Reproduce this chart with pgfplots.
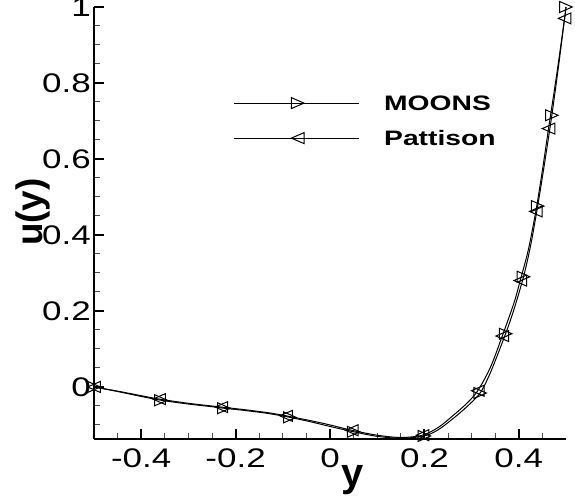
\documentclass[border=0pt]{standalone}
\usepackage{fontspec}
\setmainfont{Liberation Sans}[FakeStretch=1.3]
\newfontfamily\labelfont{Liberation Sans}
\newfontfamily\legfont{Liberation Sans Bold}[FakeStretch=1.35]
\usepackage{pgfplots}
\usepackage{pgfplotstable}
\pgfplotsset{compat=1.18}

% open triangles, a bit longer than wide
\pgfdeclareplotmark{rtri}{%
  \pgfpathmoveto{\pgfqpoint{\pgfplotmarksize}{0pt}}%
  \pgfpathlineto{\pgfqpoint{-\pgfplotmarksize}{0.87\pgfplotmarksize}}%
  \pgfpathlineto{\pgfqpoint{-\pgfplotmarksize}{-0.87\pgfplotmarksize}}%
  \pgfpathclose\pgfusepathqstroke}
\pgfdeclareplotmark{ltri}{%
  \pgfpathmoveto{\pgfqpoint{-\pgfplotmarksize}{0pt}}%
  \pgfpathlineto{\pgfqpoint{\pgfplotmarksize}{0.87\pgfplotmarksize}}%
  \pgfpathlineto{\pgfqpoint{\pgfplotmarksize}{-0.87\pgfplotmarksize}}%
  \pgfpathclose\pgfusepathqstroke}

\pgfplotstableread{
y u
-0.5 0
-0.45 -0.012
-0.4 -0.025
-0.358 -0.035
-0.3 -0.045
-0.25 -0.052
-0.225 -0.056
-0.18 -0.062
-0.13 -0.070
-0.085 -0.080
-0.04 -0.092
0 -0.104
0.05 -0.118
0.1 -0.130
0.15 -0.135
0.2 -0.129
0.23 -0.112
0.26 -0.084
0.29 -0.052
0.318 -0.016
0.34 0.038
0.372 0.140
0.39 0.205
0.41 0.290
0.425 0.372
0.44 0.476
0.455 0.592
0.47 0.715
0.485 0.852
0.5 1.0
}\moons

\pgfplotstableread{
y u
-0.5 0
-0.358 -0.035
-0.225 -0.056
-0.085 -0.080
0.05 -0.118
0.2 -0.129
0.318 -0.016
0.372 0.140
0.41 0.290
0.44 0.476
0.47 0.715
0.5 1.0
}\moonsmarks

\pgfplotstableread{
y u
-0.5 0
-0.45 -0.011
-0.4 -0.023
-0.362 -0.032
-0.3 -0.043
-0.23 -0.053
-0.18 -0.060
-0.13 -0.068
-0.093 -0.076
-0.04 -0.089
0 -0.100
0.046 -0.114
0.1 -0.127
0.15 -0.133
0.196 -0.127
0.23 -0.106
0.26 -0.076
0.29 -0.043
0.313 -0.010
0.34 0.052
0.365 0.134
0.39 0.222
0.403 0.280
0.42 0.360
0.436 0.462
0.45 0.570
0.463 0.680
0.48 0.820
0.497 0.970
0.5 1.0
}\pattison

\pgfplotstableread{
y u
-0.5 0
-0.362 -0.032
-0.23 -0.053
-0.093 -0.076
0.046 -0.114
0.196 -0.127
0.313 -0.010
0.365 0.134
0.403 0.280
0.436 0.462
0.463 0.680
0.497 0.970
}\pattisonmarks

\begin{document}
\begin{tikzpicture}
\begin{axis}[
    name=ax,
    scale only axis,
    width=472bp, height=432bp,
    xmin=-0.5, xmax=0.5, ymin=-0.137, ymax=1,
    axis lines=left,
    axis line style={-, line width=2.5bp},
    clip=false,
    tick align=inside,
    xtick={-0.4,-0.2,0,0.2,0.4},
    ytick={0,0.2,0.4,0.6,0.8,1},
    minor xtick={-0.45,-0.4,...,0.46},
    minor ytick={-0.1,-0.05,...,0.96},
    major tick length=10bp,
    minor tick length=6bp,
    every major tick/.append style={line width=2bp, black},
    every minor tick/.append style={line width=1bp, black!70},
    /pgf/number format/assume math mode=true,
    tick label style={font=\fontsize{27}{27}\selectfont},
    xticklabel style={anchor=base, yshift=-28bp},
    yticklabel style={anchor=east, inner sep=0pt, xshift=-3bp},
    xlabel={y},
    ylabel={u(y)},
    xlabel style={font=\labelfont\bfseries\fontsize{40}{40}\selectfont,
      at={(axis description cs:0.547,0)}, anchor=base, yshift=-47bp},
    ylabel style={font=\labelfont\bfseries\fontsize{37}{37}\selectfont,
      at={(axis description cs:-0.11,0.525)}, anchor=base},
    legend style={draw=none, fill=none, inner sep=0pt,
      at={(axis description cs:0.2945,0.737)}, anchor=west,
      font=\legfont\fontsize{21}{21}\selectfont,
      nodes={inner sep=0pt, text height=15bp, text depth=0pt},
      row sep=20bp,
      /tikz/every odd column/.append style={column sep=25bp}},
    legend cell align=left,
    legend image code/.code={%
      \draw[line width=1bp] (0bp,0bp) -- (125bp,0bp);
      \draw plot coordinates {(64bp,0bp)};},
  ]
  \addplot[black, line width=1bp, smooth, forget plot] table[x=y, y=u] {\moons};
  \addplot[black, line width=1bp, only marks, mark=rtri, mark size=6.3bp,
    mark options={line width=1bp}] table[x=y, y=u] {\moonsmarks};
  \addlegendentry{MOONS}
  \addplot[black, line width=1bp, smooth, forget plot] table[x=y, y=u] {\pattison};
  \addplot[black, line width=1bp, only marks, mark=ltri, mark size=6.3bp,
    mark options={line width=1bp}] table[x=y, y=u] {\pattisonmarks};
  \addlegendentry{Pattison}
\end{axis}
\pgfresetboundingbox
\path ([xshift=-94bp,yshift=-63bp]ax.south west) rectangle ([xshift=9bp,yshift=7bp]ax.north east);
\end{tikzpicture}
\end{document}
